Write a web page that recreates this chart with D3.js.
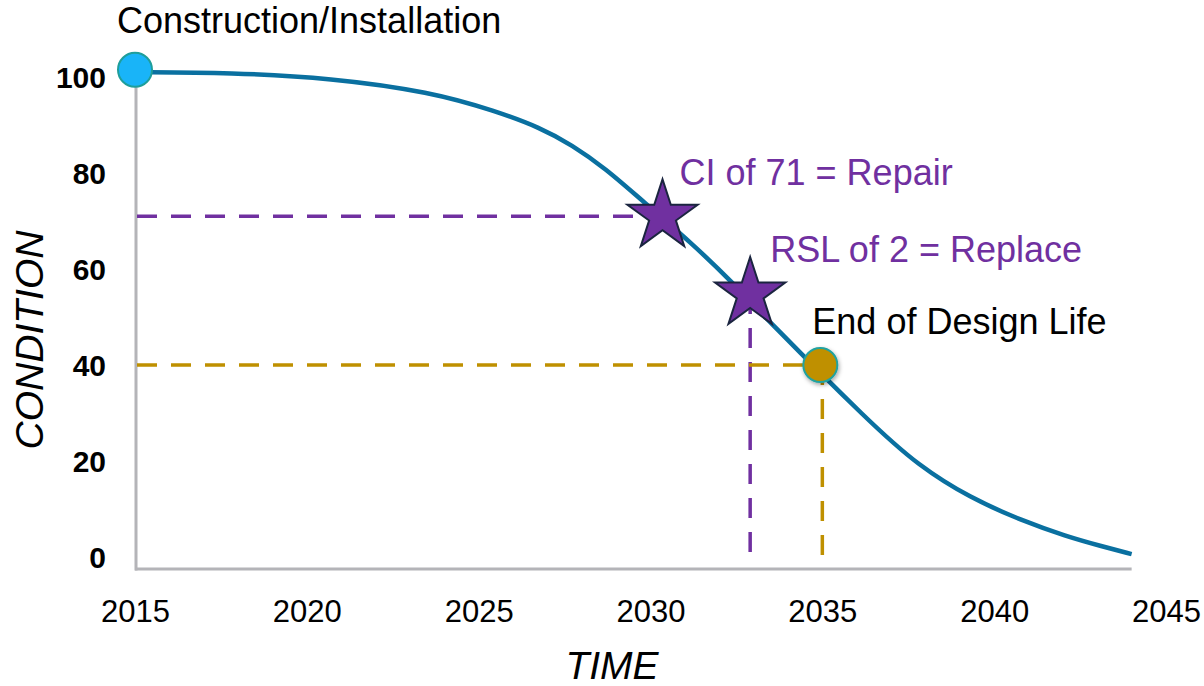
<!DOCTYPE html>
<html>
<head>
<meta charset="utf-8">
<script src="https://d3js.org/d3.v7.min.js"></script>
<style>
    body { margin: 0; background: #fff; }
    text { font-family: "Liberation Sans", Arial, sans-serif; }
</style>
</head>
<body>
<svg id="chart"></svg>
<script>
// deterioration curve
const timeYears = [2015, 2017.8, 2020.7, 2023.6, 2025.5, 2026.8, 2027.7, 2028.7, 2029.7, 2031.2, 2032.4, 2033.4, 2036.4, 2037.8, 2039.3, 2040.8, 2042.1, 2043.1, 2044];
const conditionValues = [101, 100.9, 99.8, 96.9, 92.9, 89.4, 85.9, 80.9, 74.6, 65.4, 57.1, 49.4, 27.9, 19, 12.3, 7.6, 4.3, 2.3, 0.6];

const xTicks = [2015, 2020, 2025, 2030, 2035, 2040, 2045];
const yTicks = [0, 20, 40, 60, 80, 100];

// markers: [year, condition]
const startPoint = [2015, 101.5];
const repairPoint = [2030.35, 71];
const replacePoint = [2032.9, 54.8];
const endOfLifePoint = [2035, 40];

const startLabel = 'Construction/Installation';
const repairLabel = 'CI of 71 = Repair';
const replaceLabel = 'RSL of 2 = Replace';
const endLabel = 'End of Design Life';

const width = 1204;
const height = 686;
const purple = '#7030a0';
const gold = '#bf9000';

const svg = d3.select('#chart')
    .attr('width', width)
    .attr('height', height);

const x = d3.scaleLinear().domain([2015, 2045]).range([135, 1166]);
const y = d3.scaleLinear().domain([0, 100]).range([557, 77]);

const defs = svg.append('defs');
defs.append('filter')
    .attr('id', 'shadow')
    .attr('x', '-50%').attr('y', '-50%')
    .attr('width', '200%').attr('height', '200%')
    .append('feDropShadow')
    .attr('dx', 1).attr('dy', 2)
    .attr('stdDeviation', 2)
    .attr('flood-color', '#000')
    .attr('flood-opacity', 0.35);

// axis lines (drawn by hand, the domain line stops short of 2045)
const axisBottomVal = -2.5;
svg.append('line')
    .attr('x1', x(2015)).attr('x2', x(2044))
    .attr('y1', y(axisBottomVal)).attr('y2', y(axisBottomVal))
    .attr('stroke', '#b4b4b8').attr('stroke-width', 3);
svg.append('line')
    .attr('x1', x(2015) + 1).attr('x2', x(2015) + 1)
    .attr('y1', y(startPoint[1])).attr('y2', y(axisBottomVal) + 1.5)
    .attr('stroke', '#b4b4b8').attr('stroke-width', 3);

const xAxis = svg.append('g')
    .attr('transform', `translate(0, ${y(axisBottomVal)})`)
    .call(d3.axisBottom(x).tickValues(xTicks).tickSize(0).tickPadding(0).tickFormat(d3.format('d')));
xAxis.select('.domain').remove();
xAxis.selectAll('text')
    .attr('y', 53)
    .attr('dy', null)
    .attr('fill', '#000')
    .style('font-size', '31px');

const yAxis = svg.append('g')
    .attr('transform', 'translate(106, 0)')
    .call(d3.axisLeft(y).tickValues(yTicks).tickSize(0).tickPadding(0));
yAxis.select('.domain').remove();
yAxis.selectAll('text')
    .attr('x', 0)
    .attr('dy', '0.36em')
    .attr('fill', '#000')
    .style('font-size', '30px')
    .style('font-weight', 'bold');

// axis titles
svg.append('text')
    .attr('transform', `translate(43, 340) rotate(-90)`)
    .attr('text-anchor', 'middle')
    .style('font-size', '39px')
    .style('font-style', 'italic')
    .text('CONDITION');

svg.append('text')
    .attr('x', 612).attr('y', 679)
    .attr('text-anchor', 'middle')
    .style('font-size', '39px')
    .style('font-style', 'italic')
    .text('TIME');

// dashed guides
const guides = svg.append('g')
    .attr('fill', 'none')
    .attr('stroke-width', 3.5)
    .attr('stroke-dasharray', '20,14');

guides.append('line')
    .attr('x1', x(2015) + 2).attr('x2', x(repairPoint[0]))
    .attr('y1', y(repairPoint[1])).attr('y2', y(repairPoint[1]))
    .attr('stroke', purple);
guides.append('line')
    .attr('x1', x(replacePoint[0])).attr('x2', x(replacePoint[0]))
    .attr('y1', y(replacePoint[1])).attr('y2', y(-1))
    .attr('stroke', purple);
guides.append('line')
    .attr('x1', x(2015) + 2).attr('x2', x(endOfLifePoint[0]))
    .attr('y1', y(endOfLifePoint[1])).attr('y2', y(endOfLifePoint[1]))
    .attr('stroke', gold);
guides.append('line')
    .attr('x1', x(endOfLifePoint[0])).attr('x2', x(endOfLifePoint[0]))
    .attr('y1', y(endOfLifePoint[1])).attr('y2', y(0))
    .attr('stroke', gold);

// the curve, smoothed through the read points
const line = d3.line()
    .x(d => x(d[0]))
    .y(d => y(d[1]))
    .curve(d3.curveBasis);

svg.append('path')
    .datum(d3.zip(timeYears, conditionValues))
    .attr('d', line)
    .attr('fill', 'none')
    .attr('stroke', '#0a70a0')
    .attr('stroke-width', 4.5);

// markers
svg.append('circle')
    .attr('cx', x(startPoint[0])).attr('cy', y(startPoint[1]))
    .attr('r', 17)
    .attr('fill', '#19b4f8')
    .attr('stroke', '#1f9e9a')
    .attr('stroke-width', 2);

svg.selectAll('.star')
    .data([repairPoint, replacePoint])
    .enter()
    .append('path')
    .attr('class', 'star')
    .attr('transform', d => `translate(${x(d[0])}, ${y(d[1])})`)
    .attr('d', d3.symbol().type(d3.symbolStar).size(1530))
    .attr('fill', purple)
    .attr('stroke', '#1b2540')
    .attr('stroke-width', 2);

svg.append('circle')
    .attr('cx', x(endOfLifePoint[0]) - 2).attr('cy', y(endOfLifePoint[1]))
    .attr('r', 17)
    .attr('fill', gold)
    .attr('stroke', '#20a2a0')
    .attr('stroke-width', 2)
    .attr('filter', 'url(#shadow)');

// annotations
const notes = [
    { p: startPoint, dx: -18, dy: -37, text: startLabel, color: '#000' },
    { p: repairPoint, dx: 17, dy: -31, text: repairLabel, color: purple },
    { p: replacePoint, dx: 20, dy: -32, text: replaceLabel, color: purple },
    { p: endOfLifePoint, dx: -10, dy: -31, text: endLabel, color: '#000' }
];

svg.selectAll('.note')
    .data(notes)
    .enter()
    .append('text')
    .attr('class', 'note')
    .attr('x', d => x(d.p[0]) + d.dx)
    .attr('y', d => y(d.p[1]) + d.dy)
    .attr('fill', d => d.color)
    .style('font-size', '36px')
    .text(d => d.text);
</script>
</body>
</html>
